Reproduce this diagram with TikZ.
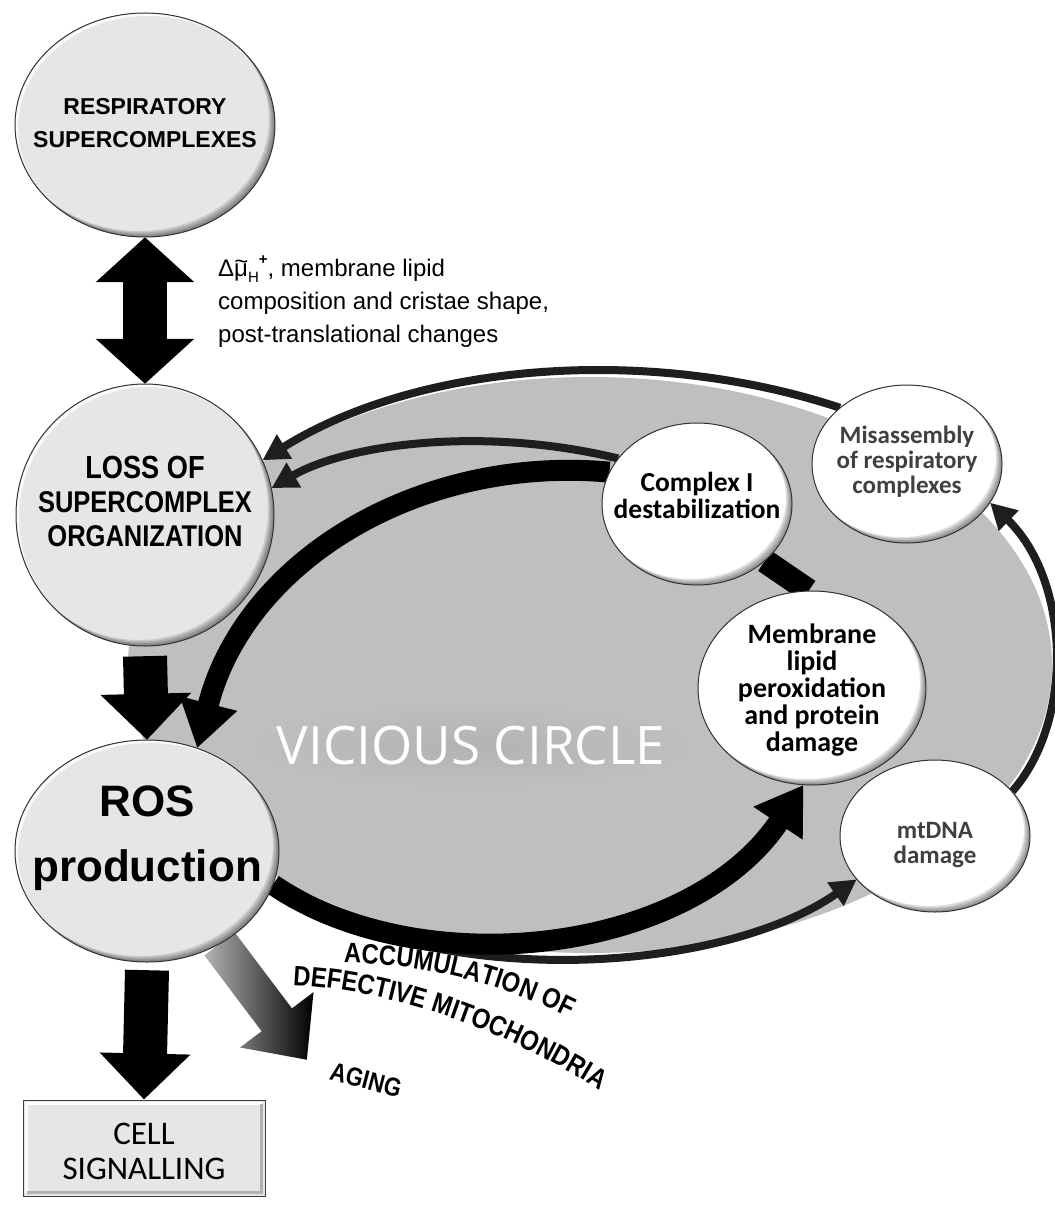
\documentclass[tikz,border=0pt]{standalone}
\usepackage{fontspec}
\setmainfont{Liberation Sans}
\newfontfamily\hum{Carlito}
\newfontfamily\osans{Open Sans}
\newfontfamily\narr[FakeStretch=0.85]{Liberation Sans}
\usetikzlibrary{shapes.geometric,arrows.meta,decorations.text}
\pgfdeclarelayer{back}\pgfdeclarelayer{mid}
\pgfsetlayers{back,mid,main}
\definecolor{lightfill}{HTML}{E6E6E6}
\definecolor{vcgray}{HTML}{BFBFBF}
\definecolor{arcdark}{HTML}{1E1E1E}
\definecolor{misgray}{HTML}{404040}
\newcommand\bevring[3]{%
 \begin{scope}
  \clip (#1.center) ellipse[x radius=#2, y radius=#3];
  \fill[white, opacity=0.8, even odd rule] (#1.center) ellipse[x radius=#2, y radius=#3] ([shift={(3,3)}]#1.center) ellipse[x radius=#2, y radius=#3];
  \foreach \o in {1.5,3,4.5,6}{
   \fill[black, opacity=0.13, even odd rule] (#1.center) ellipse[x radius=#2, y radius=#3] ([shift={(-\o,-\o)}]#1.center) ellipse[x radius=#2, y radius=#3];
  }
 \end{scope}
 \draw[black!80, line width=1pt] (#1.center) ellipse[x radius=#2, y radius=#3];
}
\newcommand\mutil{\makebox[0pt][l]{\raisebox{0.33em}{\hspace{0.01em}\textasciitilde}}μ}
\tikzset{
 bigc/.style={ellipse, fill=lightfill, inner sep=0pt},
 smallc/.style={ellipse, fill=white, inner sep=0pt},
 blockarr/.style={line width=44pt, -{Triangle[length=46pt,width=88pt]}},
 thickarr/.style={line width=21pt, -{Triangle[length=46pt,width=56pt]}},
 thinarr/.style={line width=8pt, draw=arcdark, -{Triangle[length=26pt,width=27pt]}},
 vcfont/.style={font=\osans\fontsize{53}{53}\selectfont},
}
\begin{document}
\begin{tikzpicture}[x=1pt,y=-1pt]
\useasboundingbox (0,0) rectangle (1054,1206);
\begin{pgfonlayer}{back}
 \fill[vcgray] (590,665) ellipse[x radius=462, y radius=288];
 \shade[inner color=black!30, outer color=vcgray] (471,746) ellipse[x radius=225, y radius=42];
\end{pgfonlayer}

% nodes
\node[bigc, minimum width=260pt, minimum height=224pt] (resp) at (145,125) {};
\node[bigc, minimum width=258pt, minimum height=262pt] (loss) at (145,515) {};
\node[bigc, minimum width=264pt, minimum height=222pt] (ros) at (147,851) {};
\node[smallc, minimum width=190pt, minimum height=162pt] (cx1) at (697,504) {};
\node[smallc, minimum width=190pt, minimum height=158pt] (mis) at (907,464) {};
\node[smallc, minimum width=228pt, minimum height=194pt] (mem) at (812,688) {};
\node[smallc, minimum width=190pt, minimum height=152pt] (mt) at (935,836) {};
\bevring{resp}{130}{112}
\bevring{loss}{129}{131}
\bevring{ros}{132}{111}
\bevring{cx1}{95}{81}
\bevring{mis}{95}{79}
\bevring{mem}{114}{97}
\bevring{mt}{95}{76}

\node[draw=black!75, line width=1pt, fill=lightfill, minimum width=242pt, minimum height=96pt, inner sep=0pt] (cell) at (144,1148) {};
\draw[white, line width=3pt] ([shift={(4,-4)}]cell.south west) |- ([shift={(-4,4)}]cell.north east);
\draw[black!30, line width=3pt] ([shift={(4,-4)}]cell.south west) -| ([shift={(-4,4)}]cell.north east);

% texts
\node[font=\bfseries\fontsize{23}{33}\selectfont, align=center] (respt) at (145,123) {RESPIRATORY\\SUPERCOMPLEXES};
\node[font=\narr\bfseries\fontsize{30}{34}\selectfont, align=center] (losst) at (145,501) {{\fontsize{32}{34}\selectfont LOSS OF}\\SUPERCOMPLEX\\ORGANIZATION};
\node[font=\bfseries\fontsize{44}{65}\selectfont, align=center] (rost) at (147,838) {ROS\\production};
\node[font=\hum\fontsize{33}{35}\selectfont, align=center] (cellt) at (144,1151) {CELL\\SIGNALLING};
\node[font=\hum\bfseries\fontsize{27.5}{27}\selectfont, align=center] (cx1t) at (697,495) {Complex I\\destabilization};
\node[font=\hum\bfseries\fontsize{25}{25}\selectfont, align=center, text=misgray] (mist) at (907,462) {Misassembly\\of respiratory\\complexes};
\node[font=\hum\bfseries\fontsize{28}{27}\selectfont, align=center] (memt) at (812,690) {Membrane\\lipid\\peroxidation\\and protein\\damage};
\node[font=\hum\bfseries\fontsize{25}{25}\selectfont, align=center, text=misgray] (mtt) at (935,845) {mtDNA\\damage};

\node[font=\fontsize{24}{33}\selectfont, align=left, anchor=north west, inner sep=0pt] (lbl) at (218,256)
 {Δ\mutil\raisebox{-0.25em}{\fontsize{15}{15}\selectfont H}\raisebox{0.5em}{\fontsize{15}{15}\selectfont\bfseries +}, membrane lipid\\composition and cristae shape,\\post-translational changes};

\node[vcfont, text=white] (vc) at (471,746) {VICIOUS CIRCLE};

\node[font=\narr\bfseries\fontsize{26}{26}\selectfont, rotate=-15] (aging) at (366,1080) {AGING};
\path[decorate, decoration={text along path, text align=center, text={|\narr\bfseries\fontsize{28}{28}\selectfont|ACCUMULATION OF}}]
 (343,963) .. controls (420,963) and (500,983) .. (570,1018);
\path[decorate, decoration={text along path, text align=center, text={|\narr\bfseries\fontsize{28}{28}\selectfont|DEFECTIVE MITOCHONDRIA}}]
 (288,985) .. controls (380,988) and (500,1025) .. (604,1093);

% connectors
\begin{pgfonlayer}{mid}
 \draw[line width=44pt, {Triangle[length=45pt,width=96pt]}-{Triangle[length=45pt,width=96pt]}] (resp.south) -- (loss.north);
 \draw[blockarr] ([yshift=-10pt]loss.south) -- (ros.north);
 \draw[blockarr] ([yshift=-8pt]ros.south) -- (cell.north);
 \draw[thinarr] (mis.140) .. controls (650,345) and (420,362) .. (loss.25);
 \draw[thinarr] (cx1.150) .. controls (480,425) and (345,445) .. (loss.12);
 \draw[thickarr] (cx1.160) .. controls (420,455) and (245,560) .. (ros.64);
 \draw[line width=24pt] (cx1.-40) -- (mem.92);
 \draw[thinarr] (ros.-15) .. controls (430,992) and (720,975) .. (mt.209);
 \draw[thickarr] (ros.-15) .. controls (420,985) and (690,955) .. (mem.-95);
 \draw[thinarr] (mt.30) .. controls (1075,720) and (1070,580) .. (mis.-25);
 \begin{scope}[shift={(ros.-52)}, rotate=-53]
  \shade[left color=black!30, middle color=black, right color=black]
   (0,-19) -- (95,-19) -- (95,-46) -- (145,0) -- (95,46) -- (95,19) -- (0,19) -- cycle;
 \end{scope}
\end{pgfonlayer}
\end{tikzpicture}
\end{document}
